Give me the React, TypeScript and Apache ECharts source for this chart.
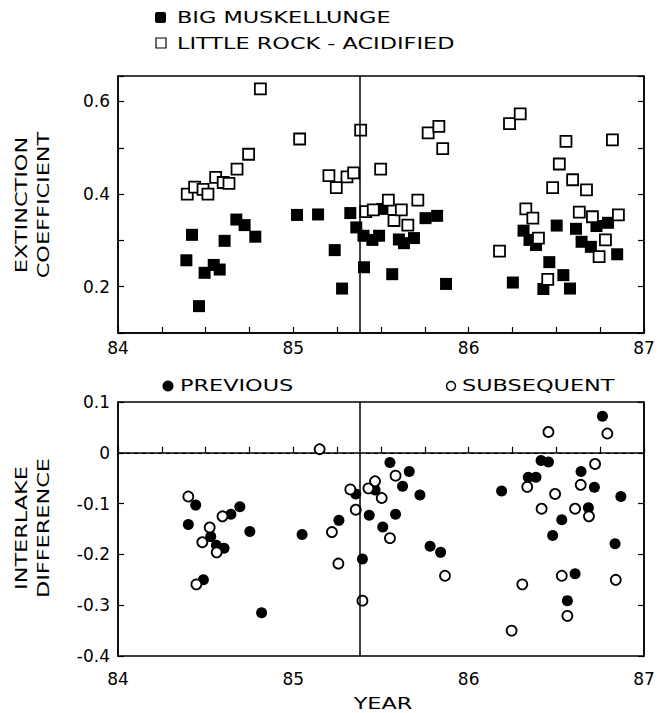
import React, { useEffect, useRef } from "react";
import * as echarts from "echarts";

// Top panel: extinction coefficient [year, value]
const bigMuskellunge: [number, number][] = [
  [84.39, 0.257], [84.422, 0.312], [84.462, 0.158], [84.494, 0.23], [84.546, 0.247],
  [84.58, 0.237], [84.608, 0.299], [84.675, 0.345], [84.722, 0.333], [84.783, 0.308],
  [85.021, 0.355], [85.141, 0.356], [85.236, 0.279], [85.278, 0.196], [85.325, 0.359],
  [85.359, 0.328], [85.403, 0.242], [85.4, 0.31], [85.451, 0.301], [85.489, 0.31],
  [85.508, 0.368], [85.564, 0.227], [85.602, 0.302], [85.631, 0.294], [85.688, 0.305],
  [85.754, 0.348], [85.82, 0.353], [85.871, 0.206], [86.252, 0.209], [86.313, 0.321],
  [86.347, 0.301], [86.384, 0.29], [86.426, 0.195], [86.46, 0.253], [86.502, 0.332],
  [86.54, 0.225], [86.578, 0.196], [86.612, 0.325], [86.644, 0.297], [86.697, 0.286],
  [86.729, 0.331], [86.795, 0.338], [86.847, 0.27],
];

const littleRock: [number, number][] = [
  [84.395, 0.4], [84.437, 0.415], [84.485, 0.41], [84.513, 0.4], [84.557, 0.436],
  [84.6, 0.425], [84.633, 0.423], [84.679, 0.454], [84.745, 0.486], [84.812, 0.627],
  [85.036, 0.519], [85.203, 0.44], [85.245, 0.414], [85.306, 0.437], [85.344, 0.446],
  [85.384, 0.538], [85.413, 0.362], [85.456, 0.366], [85.498, 0.454], [85.542, 0.387],
  [85.574, 0.343], [85.616, 0.366], [85.653, 0.333], [85.71, 0.387], [85.769, 0.532],
  [85.83, 0.546], [85.852, 0.498], [86.176, 0.277], [86.233, 0.552], [86.294, 0.573],
  [86.326, 0.368], [86.366, 0.348], [86.398, 0.305], [86.451, 0.216], [86.479, 0.414],
  [86.517, 0.465], [86.555, 0.514], [86.593, 0.431], [86.631, 0.361], [86.672, 0.409],
  [86.706, 0.351], [86.744, 0.265], [86.78, 0.301], [86.82, 0.517], [86.854, 0.355],
];

// Bottom panel: interlake difference [year, value]
const previous: [number, number][] = [
  [84.401, -0.141], [84.443, -0.103], [84.487, -0.25], [84.529, -0.165], [84.561, -0.182],
  [84.605, -0.188], [84.644, -0.121], [84.695, -0.106], [84.752, -0.155], [84.819, -0.315],
  [85.05, -0.161], [85.26, -0.133], [85.356, -0.081], [85.394, -0.209], [85.433, -0.123],
  [85.466, -0.073], [85.51, -0.146], [85.551, -0.019], [85.583, -0.121], [85.623, -0.066],
  [85.661, -0.037], [85.722, -0.083], [85.78, -0.184], [85.84, -0.196], [86.188, -0.075],
  [86.34, -0.048], [86.384, -0.048], [86.413, -0.015], [86.455, -0.018], [86.479, -0.163],
  [86.531, -0.132], [86.563, -0.291], [86.607, -0.238], [86.641, -0.037], [86.683, -0.108],
  [86.717, -0.068], [86.763, 0.072], [86.835, -0.179], [86.868, -0.086],
];

const subsequent: [number, number][] = [
  [84.401, -0.086], [84.447, -0.259], [84.481, -0.176], [84.523, -0.147], [84.563, -0.196],
  [84.596, -0.125], [85.15, 0.007], [85.22, -0.156], [85.257, -0.218], [85.325, -0.072],
  [85.356, -0.112], [85.394, -0.291], [85.428, -0.07], [85.466, -0.056], [85.504, -0.089],
  [85.551, -0.168], [85.583, -0.045], [85.865, -0.242], [86.245, -0.35], [86.306, -0.259],
  [86.334, -0.067], [86.416, -0.11], [86.455, 0.041], [86.493, -0.081], [86.531, -0.242],
  [86.563, -0.321], [86.607, -0.11], [86.639, -0.063], [86.686, -0.125], [86.721, -0.022],
  [86.791, 0.038], [86.839, -0.25],
];

const yearLabels = ["84", "85", "86", "87"];
const topYLabels = ["0.2", "0.4", "0.6"];
const bottomYLabels = ["0.1", "0", "-0.1", "-0.2", "-0.3", "-0.4"];
const dividerYear = 85.375;

const FONT = "DejaVu Sans";
const STRETCH = 1.4;

export default function App() {
  const ref = useRef<HTMLDivElement>(null);

  useEffect(() => {
    const chart = echarts.init(ref.current!, null, { renderer: "svg" });

    const xAxisBase = (gridIndex: number, margin: number) => ({
      gridIndex,
      type: "value",
      min: 84,
      max: 87,
      interval: 0.25,
      axisLine: { show: true, lineStyle: { color: "#000", width: 1.5 } },
      axisTick: { show: true, inside: true, length: 6, lineStyle: { color: "#000", width: 1.2 } },
      splitLine: { show: false },
      axisLabel: {
        margin,
        color: "#000",
        fontSize: 17,
        fontFamily: FONT,
        formatter: (v: number) => {
          const s = String(Math.round(v * 100) / 100);
          return yearLabels.includes(s) ? s : "";
        },
      },
    });

    const yAxisBase = (gridIndex: number, min: number, max: number, position: string, showLabel: boolean, labels: string[]) => ({
      gridIndex,
      type: "value",
      position,
      min,
      max,
      interval: 0.1,
      axisLine: { show: true, onZero: false, lineStyle: { color: "#000", width: 1.5 } },
      axisTick: { show: true, inside: true, length: 6, lineStyle: { color: "#000", width: 1.2 } },
      splitLine: { show: false },
      axisLabel: {
        show: showLabel,
        margin: 8,
        color: "#000",
        fontSize: 17,
        fontFamily: FONT,
        formatter: (v: number) => {
          const r = Math.round(v * 10) / 10;
          const s = r === 0 ? "0" : r.toFixed(1);
          return labels.includes(s) && Math.abs(v - r) < 1e-6 ? s : "";
        },
      },
    });

    const stretchedText = (text: string, x: number, y: number, rotate = false, align = "left") => ({
      type: "text",
      x,
      y,
      rotation: rotate ? Math.PI / 2 : 0,
      scaleX: STRETCH,
      style: {
        text,
        fill: "#000",
        fontSize: 16,
        fontFamily: FONT,
        textAlign: rotate ? "center" : align,
        textVerticalAlign: "middle",
      },
    });

    const option: any = {
      animation: false,
      backgroundColor: "#fff",
      grid: [
        { left: 118, top: 76, width: 526, height: 257, show: true, borderColor: "#000", borderWidth: 1.5 },
        { left: 118, top: 402, width: 526, height: 254, show: true, borderColor: "#000", borderWidth: 1.5 },
      ],
      xAxis: [xAxisBase(0, 6), xAxisBase(1, 14)],
      yAxis: [
        yAxisBase(0, 0.1, 0.655, "left", true, topYLabels),
        yAxisBase(0, 0.1, 0.655, "right", false, topYLabels),
        yAxisBase(1, -0.4, 0.1, "left", true, bottomYLabels),
        yAxisBase(1, -0.4, 0.1, "right", false, bottomYLabels),
      ],
      series: [
        {
          name: "BIG MUSKELLUNGE",
          type: "scatter",
          xAxisIndex: 0,
          yAxisIndex: 0,
          data: bigMuskellunge,
          symbol: "rect",
          symbolSize: 12,
          itemStyle: { color: "#000", opacity: 1 },
          markLine: {
            silent: true,
            symbol: "none",
            label: { show: false },
            lineStyle: { color: "#000", width: 1.5, type: "solid" },
            data: [{ xAxis: dividerYear }],
          },
        },
        {
          name: "LITTLE ROCK - ACIDIFIED",
          type: "scatter",
          xAxisIndex: 0,
          yAxisIndex: 0,
          data: littleRock,
          symbol: "rect",
          symbolSize: 11,
          itemStyle: { color: "#fff", borderColor: "#000", borderWidth: 1.8, opacity: 1 },
        },
        {
          name: "PREVIOUS",
          type: "scatter",
          xAxisIndex: 1,
          yAxisIndex: 2,
          data: previous,
          symbol: "circle",
          symbolSize: 11,
          itemStyle: { color: "#000", opacity: 1 },
          markLine: {
            silent: true,
            symbol: "none",
            label: { show: false },
            lineStyle: { color: "#000", width: 1.5, type: "solid" },
            data: [{ xAxis: dividerYear }],
          },
        },
        {
          name: "SUBSEQUENT",
          type: "scatter",
          xAxisIndex: 1,
          yAxisIndex: 2,
          data: subsequent,
          symbol: "circle",
          symbolSize: 10,
          itemStyle: { color: "#fff", borderColor: "#000", borderWidth: 1.8, opacity: 1 },
          markLine: {
            silent: true,
            symbol: "none",
            label: { show: false },
            lineStyle: { color: "#000", width: 1.2, type: [4, 4] },
            data: [{ yAxis: 0 }],
          },
        },
      ],
      graphic: [
        { type: "rect", shape: { x: 155, y: 12, width: 11, height: 11, r: 2 }, style: { fill: "#000" } },
        stretchedText("BIG MUSKELLUNGE", 177, 18),
        { type: "rect", shape: { x: 156, y: 38, width: 10, height: 10 }, style: { fill: "#fff", stroke: "#000", lineWidth: 1.2 } },
        stretchedText("LITTLE ROCK - ACIDIFIED", 177, 44),
        stretchedText("EXTINCTION", 22, 205, true),
        stretchedText("COEFFICIENT", 44, 205, true),
        { type: "circle", shape: { cx: 168, cy: 386, r: 5.5 }, style: { fill: "#000" } },
        stretchedText("PREVIOUS", 180, 386),
        { type: "circle", shape: { cx: 451, cy: 386, r: 4.5 }, style: { fill: "#fff", stroke: "#000", lineWidth: 1.5 } },
        stretchedText("SUBSEQUENT", 462, 386),
        stretchedText("INTERLAKE", 22, 528, true),
        stretchedText("DIFFERENCE", 44, 528, true),
        stretchedText("YEAR", 383, 704, false, "center"),
      ],
    };

    chart.setOption(option);
    return () => chart.dispose();
  }, []);

  return (
    <div
      ref={ref}
      style={{ position: "fixed", left: 0, top: 0, width: 658, height: 713, background: "#fff" }}
    />
  );
}
